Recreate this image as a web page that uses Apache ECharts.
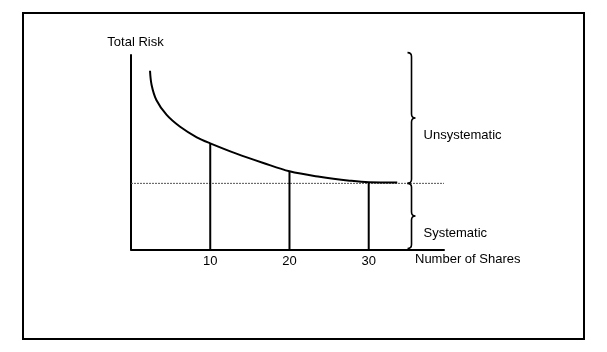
<!DOCTYPE html>
<html>
<head>
<meta charset="utf-8">
<script src="https://cdn.jsdelivr.net/npm/echarts@6/dist/echarts.min.js"></script>
<style>
  html, body { margin: 0; padding: 0; background: #fff; }
  #chart { width: 607px; height: 352px; }
</style>
</head>
<body>
<div id="chart"></div>
<script>
// x tick labels on the share axis
const xTicks = [10, 20, 30]
// total risk curve
const curveX = [2.4, 2.6, 3.2, 4.5, 6.2, 8.3, 10, 13.3, 16.7, 20, 23.8, 27.6, 30, 33.6]
const curveY = [91.9, 84.6, 76.9, 69.2, 63.1, 57.7, 54.6, 49.3, 44.5, 40.2, 37.4, 35.4, 34.6, 34.5]
// vertical drop lines at 10 / 20 / 30 shares
const dropY = [54.6, 40.2, 34.6]
// systematic risk level (dashed line)
const systematic = 34
const dashX = [0, 39.5]
// braces: [x, low, high, label]
const braceX = 35.4
const braceLow = [34, 0.5]
const braceHigh = [101.2, 34]
const braceLabels = ['Unsystematic', 'Systematic']

const font = 'Liberation Sans, Arial, sans-serif'
const chart = echarts.init(document.getElementById('chart'))

function renderBrace(params, api) {
  const top = api.coord([api.value(0), api.value(2)])
  const bot = api.coord([api.value(0), api.value(1)])
  const x = top[0], y1 = top[1], y2 = bot[1]
  const ym = (y1 + y2) / 2
  const r = 4, xl = x - 4, xt = x + 4
  const d = `M${xl} ${y1} Q${x} ${y1} ${x} ${y1 + r} L${x} ${ym - r} Q${x} ${ym} ${xt} ${ym}` +
            ` Q${x} ${ym} ${x} ${ym + r} L${x} ${y2 - r} Q${x} ${y2} ${xl} ${y2}`
  return {
    type: 'group',
    children: [
      { type: 'path', shape: { pathData: d }, style: { stroke: '#000', lineWidth: 1.6, fill: 'none' } },
      {
        type: 'text',
        x: x + 12, y: ym + 17,
        style: {
          text: braceLabels[params.dataIndex],
          fill: '#000', font: `13px ${font}`,
          textAlign: 'left', textVerticalAlign: 'middle'
        }
      }
    ]
  }
}

chart.setOption({
  animation: false,
  backgroundColor: '#fff',
  textStyle: { fontFamily: font },
  graphic: [{
    type: 'rect', z: -1,
    shape: { x: 23, y: 13, width: 561, height: 326 },
    style: { fill: 'none', stroke: '#000', lineWidth: 2 }
  }],
  grid: { left: 131, right: 163, top: 55, bottom: 102.5 },
  xAxis: {
    type: 'value', min: 0, max: 39.5, interval: 10,
    name: 'Number of Shares', nameLocation: 'end', nameGap: -29,
    nameTextStyle: { color: '#000', fontSize: 13, verticalAlign: 'top', lineHeight: 19 },
    axisLine: { lineStyle: { color: '#000', width: 2 } },
    axisTick: { show: false },
    splitLine: { show: false },
    axisLabel: {
      color: '#000', fontSize: 13, margin: 5,
      formatter: v => xTicks.includes(v) ? String(v) : ''
    }
  },
  yAxis: {
    type: 'value', min: 0, max: 100,
    name: 'Total Risk', nameLocation: 'end', nameGap: 6,
    nameTextStyle: { color: '#000', fontSize: 13, padding: [0, 0, 0, 9] },
    axisLine: { show: true, lineStyle: { color: '#000', width: 2 } },
    axisTick: { show: false },
    axisLabel: { show: false },
    splitLine: { show: false }
  },
  series: [
    {
      type: 'line',
      data: dashX.map(x => [x, systematic]),
      symbol: 'none',
      lineStyle: { color: '#555', width: 1, type: [2, 1] },
      z: 1
    },
    {
      type: 'bar',
      data: xTicks.map((x, i) => [x, dropY[i]]),
      barWidth: 2,
      itemStyle: { color: '#000' },
      z: 2
    },
    {
      type: 'line',
      data: curveX.map((x, i) => [x, curveY[i]]),
      smooth: 0.35,
      symbol: 'none',
      lineStyle: { color: '#000', width: 2 },
      z: 3
    },
    {
      type: 'custom',
      renderItem: renderBrace,
      clip: false,
      data: braceLow.map((lo, i) => [braceX, lo, braceHigh[i]]),
      z: 4
    }
  ]
})
</script>
</body>
</html>
